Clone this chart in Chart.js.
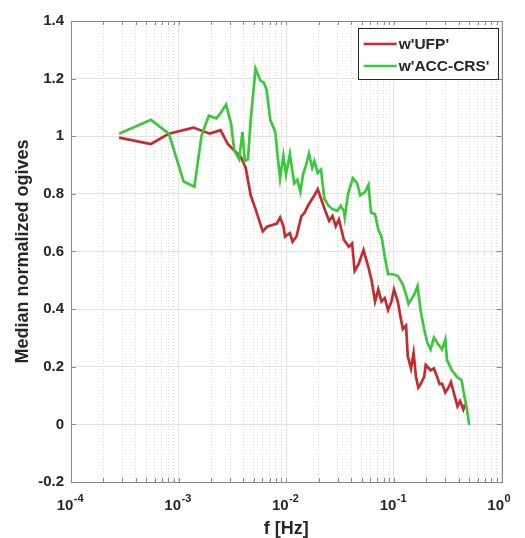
<!DOCTYPE html>
<html><head><meta charset="utf-8">
<script src="https://cdn.jsdelivr.net/npm/chart.js@4.4.1/dist/chart.umd.min.js"></script>
<style>html,body{margin:0;padding:0;background:#fff;}canvas{display:block;}</style>
</head><body>
<canvas id="c" width="525" height="538"></canvas>
<script>
// ---- data ----
const ufpFreq = [2.80e-4,5.52e-4,8.11e-4,1.371e-3,1.945e-3,2.449e-3,2.858e-3,3.784e-3,4.198e-3,4.667e-3,5.176e-3,5.754e-3,6.039e-3,6.622e-3,8.166e-3,8.750e-3,9.397e-3,9.727e-3,0.01079,0.01143,0.01242,0.01380,0.01479,0.01589,0.01824,0.01959,0.02099,0.02333,0.02500,0.02685,0.02877,0.03083,0.03428,0.03811,0.04083,0.04315,0.04699,0.05212,0.05794,0.06209,0.06668,0.07145,0.07656,0.08222,0.08810,0.09462,0.1000,0.1086,0.1127,0.1208,0.1294,0.1343,0.1439,0.1521,0.1600,0.1682,0.1774,0.1905,0.1972,0.2188,0.2350,0.2518,0.2649,0.2799,0.2999,0.3221,0.3381,0.3698,0.3890,0.4111,0.4406,0.4571];
const ufpVal = [0.995,0.973,1.009,1.030,1.009,1.021,0.973,0.928,0.890,0.795,0.747,0.694,0.670,0.686,0.697,0.718,0.688,0.652,0.664,0.634,0.652,0.723,0.735,0.759,0.795,0.816,0.783,0.735,0.706,0.723,0.688,0.711,0.640,0.617,0.628,0.533,0.557,0.605,0.545,0.498,0.426,0.468,0.426,0.438,0.397,0.426,0.468,0.426,0.391,0.331,0.343,0.236,0.194,0.248,0.165,0.128,0.141,0.165,0.206,0.188,0.194,0.165,0.140,0.141,0.111,0.129,0.147,0.093,0.063,0.081,0.052,0.070];
const accFreq = [2.80e-4,5.52e-4,8.11e-4,1.112e-3,1.400e-3,1.633e-3,1.905e-3,2.239e-3,2.449e-3,2.761e-3,3.062e-3,3.289e-3,3.648e-3,3.917e-3,4.111e-3,4.406e-3,4.667e-3,5.176e-3,5.754e-3,6.166e-3,6.531e-3,7.096e-3,7.889e-3,8.337e-3,8.750e-3,9.397e-3,9.931e-3,0.01079,0.01183,0.01268,0.01352,0.01429,0.01531,0.01622,0.01738,0.01824,0.01959,0.02099,0.02254,0.02466,0.02685,0.02979,0.03199,0.03428,0.03490,0.03750,0.04140,0.04539,0.04864,0.05408,0.05794,0.06124,0.06668,0.07145,0.07656,0.08222,0.08810,0.09795,0.1086,0.1208,0.1294,0.1365,0.1439,0.1542,0.1656,0.1774,0.1905,0.2042,0.2188,0.2350,0.2518,0.2799,0.2999,0.3105,0.3451,0.3837,0.4256,0.4406,0.4732,0.5000];
const accVal = [1.009,1.057,1.009,0.843,0.825,1.003,1.071,1.062,1.080,1.110,1.045,0.950,0.920,1.015,0.914,0.920,1.057,1.235,1.193,1.187,1.164,1.057,1.015,0.926,0.854,0.932,0.867,0.938,0.837,0.849,0.807,0.867,0.902,0.940,0.890,0.914,0.873,0.884,0.783,0.759,0.747,0.741,0.759,0.741,0.719,0.801,0.854,0.837,0.795,0.807,0.831,0.735,0.729,0.676,0.652,0.581,0.521,0.521,0.515,0.486,0.450,0.418,0.432,0.450,0.480,0.391,0.331,0.283,0.260,0.301,0.283,0.260,0.295,0.224,0.188,0.165,0.153,0.117,0.058,-0.002];
const seriesLabels = ["w'UFP'", "w'ACC-CRS'"];
const seriesColors = ['#C42B2B', '#3CC83C'];
const xMajorTicks = [1e-4, 1e-3, 1e-2, 1e-1, 1];
const xTickBase = '10';
const xTickExponents = ['-4', '-3', '-2', '-1', '0'];
const yTicks = [-0.2, 0, 0.2, 0.4, 0.6, 0.8, 1, 1.2, 1.4];
const yTickLabels = ['-0.2', '0', '0.2', '0.4', '0.6', '0.8', '1', '1.2', '1.4'];
const xTitle = 'f [Hz]';
const yTitle = 'Median normalized ogives';

// ---- derived tick sets ----
const xAllTicks = [];
for (let i = 0; i < xMajorTicks.length; i++) {
  xAllTicks.push(xMajorTicks[i]);
  if (i < xMajorTicks.length - 1) for (let m = 2; m <= 9; m++) xAllTicks.push(+(m * xMajorTicks[i]).toPrecision(6));
}
const isMajorX = v => xMajorTicks.some(t => Math.abs(v - t) / t < 1e-6);
const majorIndex = v => xMajorTicks.findIndex(t => Math.abs(v - t) / t < 1e-6);

const FONT = "'Liberation Sans', Arial, Helvetica, sans-serif";
const TXT = '#262626';
const X_LABEL_PAD = 15, X_LABEL_SIZE = 15, X_LABEL_SHIFT = -6;

const boxPlugin = {
  id: 'boxAndTicks',
  afterDatasetsDraw(chart) {
    const {ctx, chartArea: a, scales} = chart;
    ctx.save();
    ctx.strokeStyle = '#8a8a8a';
    ctx.lineWidth = 1;
    ctx.beginPath();
    xAllTicks.forEach(v => {
      const px = Math.round(scales.x.getPixelForValue(v)) + 0.5;
      ctx.moveTo(px, a.bottom); ctx.lineTo(px, a.bottom - 4);
      ctx.moveTo(px, a.top); ctx.lineTo(px, a.top + 4);
    });
    yTicks.forEach(v => {
      const py = Math.round(scales.y.getPixelForValue(v)) + 0.5;
      ctx.moveTo(a.left, py); ctx.lineTo(a.left + 5, py);
      ctx.moveTo(a.right, py); ctx.lineTo(a.right - 5, py);
    });
    ctx.stroke();
    ctx.strokeRect(Math.round(a.left) + 0.5, Math.round(a.top) + 0.5, Math.round(a.right - a.left), Math.round(a.bottom - a.top));
    ctx.restore();
  },
  afterDraw(chart) {
    const {ctx, chartArea: a, scales} = chart;
    ctx.save();
    // exponents of the x tick labels
    ctx.font = 'bold ' + X_LABEL_SIZE + 'px ' + FONT;
    const wBase = ctx.measureText(xTickBase).width;
    const yMid = a.bottom + X_LABEL_PAD + X_LABEL_SIZE * 1.2 / 2;
    ctx.font = 'bold 11px ' + FONT;
    ctx.fillStyle = TXT;
    ctx.textAlign = 'left';
    ctx.textBaseline = 'middle';
    xMajorTicks.forEach((v, i) => {
      const px = scales.x.getPixelForValue(v) + X_LABEL_SHIFT + wBase / 2 + 0.5;
      ctx.fillText(xTickExponents[i], px, yMid - 7);
    });
    // legend inside the axes
    const bw = 140, bh = 51;
    const bx = a.right - bw - 4, by = a.top + 7;
    ctx.fillStyle = '#fff';
    ctx.fillRect(bx, by, bw, bh);
    ctx.strokeStyle = '#262626';
    ctx.lineWidth = 1;
    ctx.strokeRect(Math.round(bx) + 0.5, Math.round(by) + 0.5, bw, bh);
    ctx.font = 'bold 15.5px ' + FONT;
    ctx.textBaseline = 'middle';
    seriesLabels.forEach((lab, i) => {
      const y = by + 16 + i * 22;
      ctx.strokeStyle = seriesColors[i];
      ctx.lineWidth = 2.5;
      ctx.beginPath(); ctx.moveTo(bx + 6, y); ctx.lineTo(bx + 39, y); ctx.stroke();
      ctx.fillStyle = TXT;
      ctx.fillText(lab, bx + 41, y + 1);
    });
    ctx.restore();
  }
};

const toPts = (xs, ys) => xs.map((x, i) => ({x: x, y: ys[i]}));

new Chart(document.getElementById('c'), {
  type: 'line',
  data: {
    datasets: [
      {label: seriesLabels[0], data: toPts(ufpFreq, ufpVal), borderColor: seriesColors[0], borderWidth: 2.7, pointRadius: 0, tension: 0, order: 1, xAxisID: 'x', yAxisID: 'y'},
      {label: seriesLabels[1], data: toPts(accFreq, accVal), borderColor: seriesColors[1], borderWidth: 2.7, pointRadius: 0, tension: 0, order: 0, xAxisID: 'x', yAxisID: 'y'}
    ]
  },
  options: {
    responsive: false,
    animation: false,
    events: [],
    layout: {padding: {top: 21, right: 15, bottom: 0, left: 0}},
    plugins: {legend: {display: false}, tooltip: {enabled: false}},
    scales: {
      x: {
        type: 'logarithmic', position: 'bottom', min: 1e-4, max: 1,
        afterBuildTicks: s => { s.ticks = xAllTicks.map(v => ({value: v, major: isMajorX(v)})); },
        afterFit: s => { s.height = 56; },
        ticks: {
          autoSkip: false, maxRotation: 0, padding: X_LABEL_PAD, labelOffset: X_LABEL_SHIFT, color: TXT,
          font: {family: FONT, size: X_LABEL_SIZE, weight: 'bold'},
          callback: (v) => majorIndex(v) >= 0 ? xTickBase : ''
        },
        grid: {color: c => (c.tick && isMajorX(c.tick.value)) ? '#e2e2e2' : 'rgba(0,0,0,0)', drawTicks: false, lineWidth: 1},
        border: {display: true, color: '#8a8a8a'},
        title: {display: true, text: xTitle, color: TXT, font: {family: FONT, size: 18, weight: 'bold', lineHeight: 1}, padding: {top: 0, bottom: 0}}
      },
      x2: {
        type: 'logarithmic', position: 'bottom', min: 1e-4, max: 1,
        afterBuildTicks: s => { s.ticks = xAllTicks.map(v => ({value: v})); },
        afterFit: s => { s.height = 0; },
        ticks: {display: false},
        grid: {color: c => (c.tick && !isMajorX(c.tick.value)) ? '#d4d4d4' : 'rgba(0,0,0,0)', drawTicks: false, lineWidth: 1},
        border: {display: false, dash: [1, 2]}
      },
      y: {
        type: 'linear', min: -0.2, max: 1.4,
        afterBuildTicks: s => { s.ticks = yTicks.map(v => ({value: v})); },
        afterFit: s => { s.width = 71; },
        ticks: {
          padding: 7, color: TXT, font: {family: FONT, size: 15, weight: 'bold'},
          callback: (v) => { const k = yTicks.findIndex(t => Math.abs(t - v) < 1e-9); return k >= 0 ? yTickLabels[k] : ''; }
        },
        grid: {color: '#e2e2e2', drawTicks: false, lineWidth: 1},
        border: {display: true, color: '#8a8a8a'},
        title: {display: true, text: yTitle, color: TXT, font: {family: FONT, size: 18, weight: 'bold', lineHeight: 1}, padding: {top: 14, bottom: 0}}
      }
    }
  },
  plugins: [boxPlugin]
});
</script>
</body></html>
